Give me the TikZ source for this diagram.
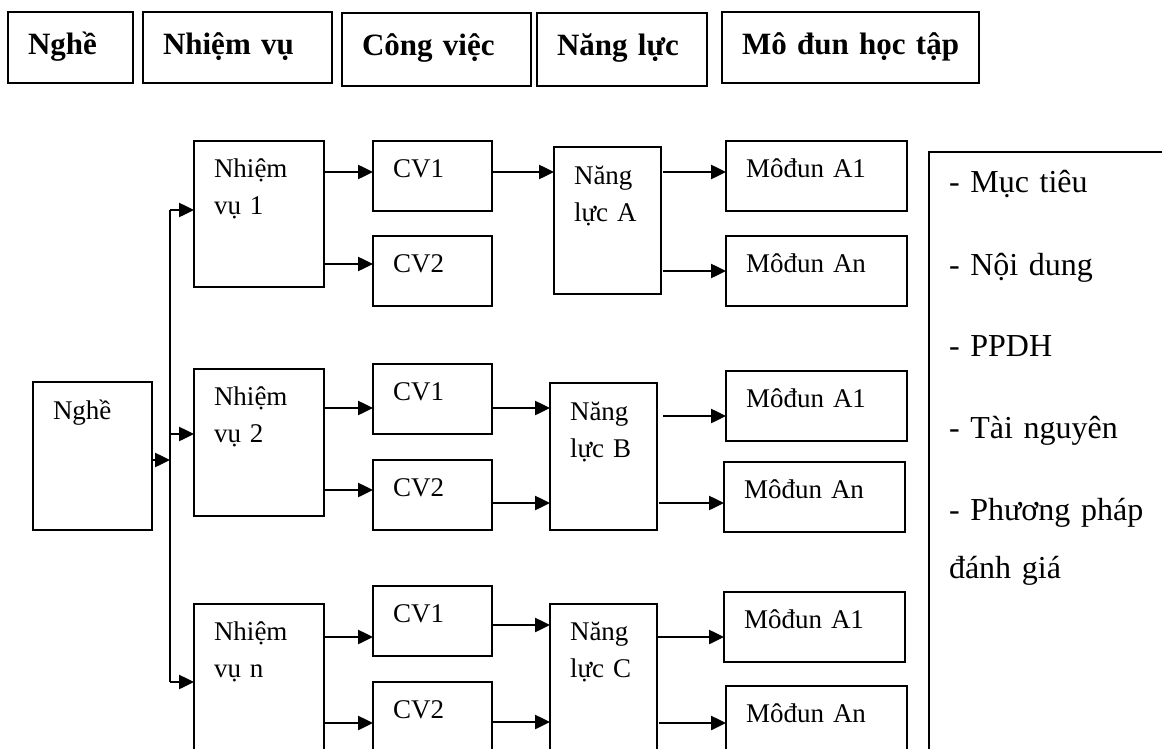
\documentclass[tikz,border=0pt]{standalone}
\usepackage{fontspec}
\setmainfont{Liberation Serif}
\usetikzlibrary{arrows.meta}

\begin{document}
\begin{tikzpicture}[x=1pt,y=-1pt,>={Triangle[length=15pt,width=14pt]},line width=2.5pt]
  \tikzstyle{box}=[draw,line width=1.8pt,anchor=north west,inner xsep=20pt,inner ysep=0pt,outer sep=0pt,align=left,text height=36pt,font=\fontsize{27}{37}\selectfont]
  \tikzstyle{head}=[box,text height=43pt,text depth=28pt,font=\fontsize{31}{38}\selectfont\bfseries]
  \tikzstyle{task}=[box,text width=90pt,text depth=110pt]
  \tikzstyle{job}=[box,text width=79pt,text depth=34pt]
  \tikzstyle{skill}=[box,text width=67pt,text height=37pt,text depth=110pt]
  \tikzstyle{module}=[box,text width=141pt,text depth=34pt]
  \tikzstyle{arr}=[->,line width=2.5pt]

  \useasboundingbox (0,0) rectangle (1162,749);
  \clip (0,0) rectangle (1162,749);

  % headings
  \node[head,text width=85pt]  (hnghe)  at (8,12)   {Nghề};
  \node[head,text width=149pt] (htask)  at (143,12) {Nhiệm vụ};
  \node[head,text width=149pt,text depth=30pt] (hjob) at (342,13) {Công việc};
  \node[head,text width=130pt,text depth=30pt] (hskill) at (537,13) {Năng lực};
  \node[head,text width=229pt,inner xsep=14pt] (hmod) at (722,12) {\hspace{6pt}Mô đun học tập};

  % the trade
  \node[box,text width=79pt,text height=37pt,text depth=111pt] (nghe) at (33,382) {Nghề};

  % first task
  \node[task] (nv1) at (194,141) {Nhiệm\\vụ 1};
  \node[job] (cv11) at (373,141) {CV1};
  \node[job] (cv12) at (373,236) {CV2};
  \node[skill] (nla) at (554,147) {Năng\\lực A};
  \node[module] (ma1) at (726,141) {Môđun A1};
  \node[module] (man) at (726,236) {Môđun An};

  % second task
  \node[task,text depth=111pt] (nv2) at (194,369) {Nhiệm\\vụ 2};
  \node[job] (cv21) at (373,364) {CV1};
  \node[job] (cv22) at (373,460) {CV2};
  \node[skill] (nlb) at (550,383) {Năng\\lực B};
  \node[module] (mb1) at (726,371) {Môđun A1};
  \node[module] (mbn) at (724,462) {Môđun An};

  % last task
  \node[task,text depth=114pt] (nv3) at (194,604) {Nhiệm\\vụ n};
  \node[job] (cv31) at (373,586) {CV1};
  \node[job] (cv32) at (373,682) {CV2};
  \node[skill,text height=36pt,text depth=114pt] (nlc) at (550,604) {Năng\\lực C};
  \node[module] (mc1) at (724,592) {Môđun A1};
  \node[module] (mcn) at (726,686) {Môđun An};

  % what every module holds
  \node[box,text width=300pt,text height=41pt,text depth=700pt,font=\fontsize{32}{82}\selectfont] (content) at (929,152)
    {- Mục tiêu\\- Nội dung\\- PPDH\\- Tài nguyên\\- Phương pháp\\[-24pt]đánh giá};

  % trunk from the trade to the tasks
  \coordinate (t1) at (170,210);
  \coordinate (t2) at (170,434);
  \coordinate (t3) at (170,682);
  \draw (t1) -- (t3);
  \draw[arr] (nghe.east |- 0,460) -- (t2 |- 0,460);
  \draw[arr] (t1) -- (t1 -| nv1.west);
  \draw[arr] (t2) -- (t2 -| nv2.west);
  \draw[arr] (t3) -- (t3 -| nv3.west);

  \draw[arr] (nv1.east |- 0,172) -- (cv11.west |- 0,172);
  \draw[arr] (nv1.east |- 0,264) -- (cv12.west |- 0,264);
  \draw[arr] (cv11.east |- 0,172) -- (nla.west |- 0,172);
  \draw[arr] ([xshift=2pt]nla.east |- 0,172) -- (ma1.west |- 0,172);
  \draw[arr] ([xshift=2pt]nla.east |- 0,271) -- (man.west |- 0,271);

  \draw[arr] (nv2.east |- 0,408) -- (cv21.west |- 0,408);
  \draw[arr] (nv2.east |- 0,490) -- (cv22.west |- 0,490);
  \draw[arr] (cv21.east |- 0,408) -- (nlb.west |- 0,408);
  \draw[arr] (cv22.east |- 0,503) -- (nlb.west |- 0,503);
  \draw[arr] ([xshift=6pt]nlb.east |- 0,416) -- (mb1.west |- 0,416);
  \draw[arr] ([xshift=2pt]nlb.east |- 0,503) -- (mbn.west |- 0,503);

  \draw[arr] (nv3.east |- 0,637) -- (cv31.west |- 0,637);
  \draw[arr] (nv3.east |- 0,723) -- (cv32.west |- 0,723);
  \draw[arr] (cv31.east |- 0,625) -- (nlc.west |- 0,625);
  \draw[arr] (cv32.east |- 0,722) -- (nlc.west |- 0,722);
  \draw[arr] (nlc.east |- 0,637) -- (mc1.west |- 0,637);
  \draw[arr] ([xshift=2pt]nlc.east |- 0,723) -- (mcn.west |- 0,723);
\end{tikzpicture}
\end{document}
